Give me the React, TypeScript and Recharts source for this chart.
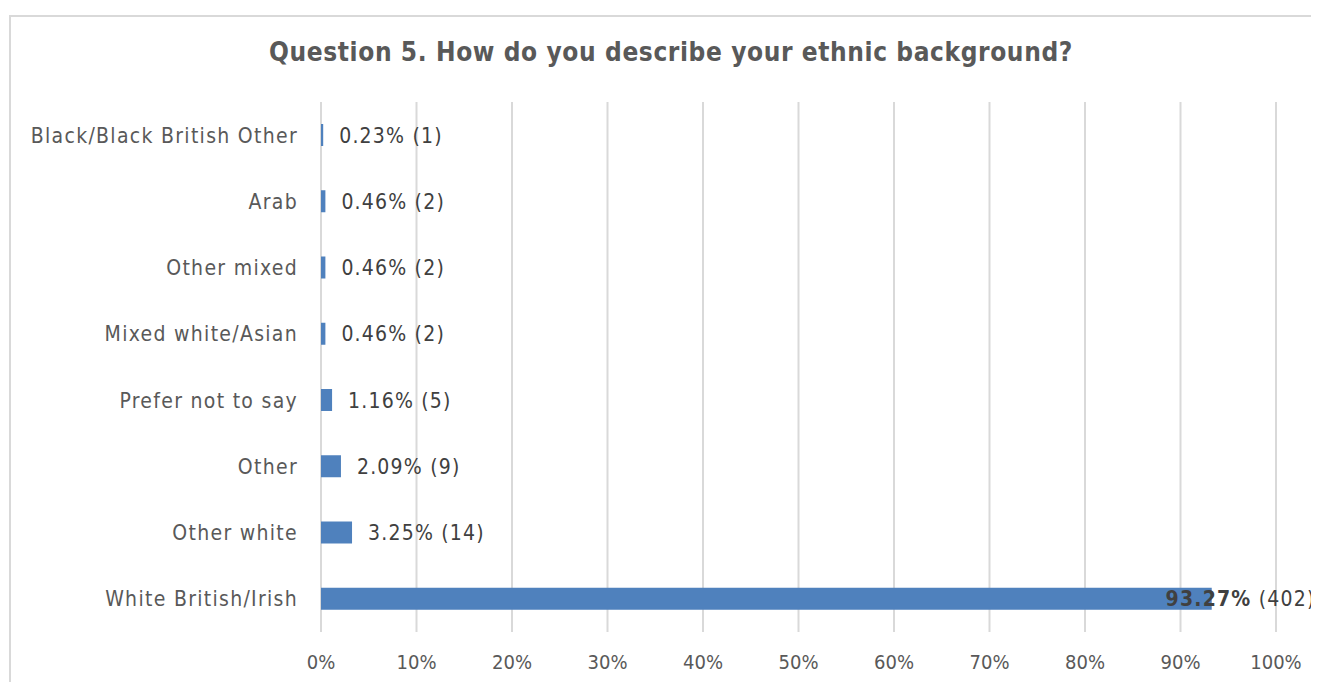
import React from "react"
import { Bar, BarChart, CartesianGrid, XAxis, YAxis } from "recharts"

const categories = [
  "Black/Black British Other",
  "Arab",
  "Other mixed",
  "Mixed white/Asian",
  "Prefer not to say",
  "Other",
  "Other white",
  "White British/Irish",
]
const percents = [0.23, 0.46, 0.46, 0.46, 1.16, 2.09, 3.25, 93.27]
const counts = [1, 2, 2, 2, 5, 9, 14, 402]
const xTicks = [0, 10, 20, 30, 40, 50, 60, 70, 80, 90, 100]

const data = categories.map((name, i) => ({ name, pct: percents[i], n: counts[i] }))

const FONT = "Tahoma, 'DejaVu Sans Condensed', 'DejaVu Sans', sans-serif"
const BAR = "#4F81BD"
const CHART_W = 1320
const CHART_H = 666
// part of the chart that is actually visible before the frame gets cut off
const VISIBLE_W = 1308

function ValueLabel(props: any) {
  const { x, y, width, height, index } = props
  const pct = `${percents[index].toFixed(2)}%`
  const cnt = `(${counts[index]})`
  const barEnd = x + width
  const textW = (pct.length + cnt.length + 1) * 12.7
  // labels that would run past the edge get pulled back over the bar end
  const pulledIn = barEnd + 16 + textW > VISIBLE_W
  const tx = pulledIn ? VISIBLE_W - textW : barEnd + 16
  return (
    <text
      x={tx}
      y={y + height / 2}
      dy="0.36em"
      fontFamily={FONT}
      fontSize={21}
      letterSpacing={1.2}
      fill="#404040"
    >
      <tspan fontWeight={pulledIn ? "bold" : "normal"}>{pct}</tspan>
      <tspan> {cnt}</tspan>
    </text>
  )
}

export default function App() {
  return (
    <div style={{ width: 1311, height: 674, overflow: "hidden", position: "relative" }}>
      <div
        style={{
          position: "absolute",
          left: 1,
          top: 7,
          width: 1340,
          height: 700,
          border: "2px solid #D9D9D9",
          background: "#fff",
          boxSizing: "border-box",
        }}
      >
        <div
          style={{
            position: "absolute",
            left: 0,
            top: 20,
            width: 1320,
            textAlign: "center",
            fontFamily: FONT,
            fontWeight: "bold",
            fontSize: 26,
            letterSpacing: 0.6,
            color: "#595959",
          }}
        >
          Question 5. How do you describe your ethnic background?
        </div>
        <div style={{ position: "absolute", left: -1, top: -1 }}>
          <BarChart
            width={CHART_W}
            height={CHART_H}
            data={data}
            layout="vertical"
            margin={{ top: 86, right: 54, bottom: 10, left: 0 }}
            barSize={22}
          >
            <CartesianGrid horizontal={false} stroke="#D9D9D9" strokeWidth={2} />
            <XAxis
              type="number"
              domain={[0, 100]}
              ticks={xTicks}
              tickFormatter={(v: number) => `${v}%`}
              axisLine={false}
              tickLine={false}
              tickSize={0}
              tickMargin={23}
              height={40}
              tick={{ fill: "#595959", fontSize: 20, fontFamily: FONT }}
              interval={0}
            />
            <YAxis
              type="category"
              dataKey="name"
              width={311}
              axisLine={false}
              tickLine={false}
              tickSize={0}
              tickMargin={23}
              tick={{ fill: "#595959", fontSize: 21, fontFamily: FONT, letterSpacing: 1.3 }}
              interval={0}
            />
            <Bar dataKey="pct" fill={BAR} isAnimationActive={false} label={ValueLabel} />
          </BarChart>
        </div>
      </div>
    </div>
  )
}
